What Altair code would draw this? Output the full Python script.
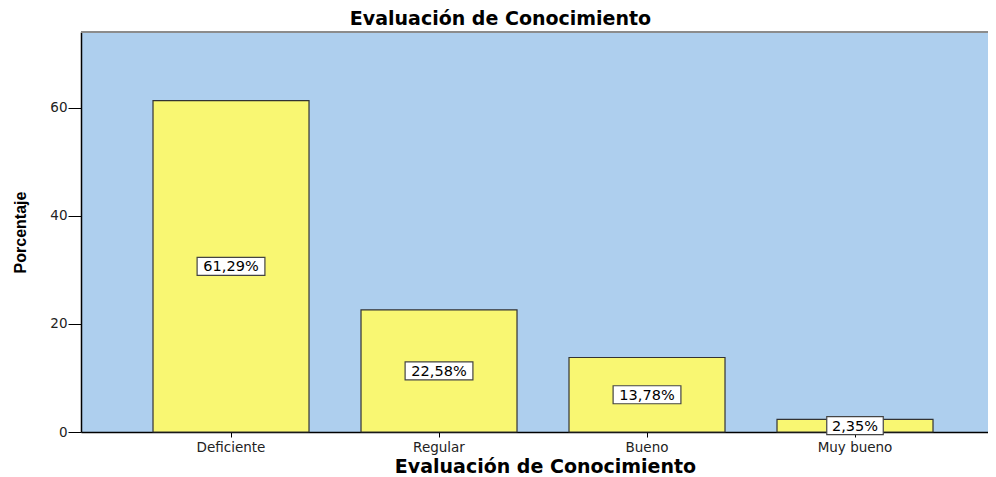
import altair as alt
import pandas as pd

categories = ["Deficiente", "Regular", "Bueno", "Muy bueno"]
values = [61.29, 22.58, 13.78, 2.35]
labels = ["61,29%", "22,58%", "13,78%", "2,35%"]
y_ticks = [0, 20, 40, 60]
title_text = "Evaluación de Conocimiento"
x_title = "Evaluación de Conocimiento"
y_title = "Porcentaje"

BOX_H = 18
rows = []
for c, v, l in zip(categories, values, labels):
    w = 11.3 * len(l)
    h = BOX_H / w
    rows.append({
        "cat": c, "val": v, "mid": v / 2, "lab": l,
        "bsize": w * w,
        "bshape": f"M-1,{-h:.4f}H1V{h:.4f}H-1Z",
    })
df = pd.DataFrame(rows)

xscale = alt.Scale(domain=categories, paddingInner=0.25, paddingOuter=0.3053, align=0.567)
yscale = alt.Scale(domain=[0, 74], nice=False, zero=True)

x_enc = alt.X("cat:N", scale=xscale, sort=categories,
              axis=alt.Axis(title=x_title, labelAngle=0, tickSize=5, labelPadding=3,
                            domainColor="black", domainWidth=1.5, tickColor="black",
                            labelFont="DejaVu Sans", labelFontSize=13.5, labelColor="#222",
                            titleFont="DejaVu Sans", titleFontSize=19, titleFontWeight="bold",
                            titleColor="black", titleX=464, titleY=34,
                            titleBaseline="middle", titleAlign="center"))
y_enc = alt.Y("val:Q", scale=yscale,
              axis=alt.Axis(title=y_title, values=y_ticks, tickSize=13, labelPadding=1,
                            grid=False, domainColor="black", domainWidth=1.5,
                            tickColor="black", labelFont="DejaVu Sans", labelFontSize=13.5,
                            labelColor="#222",
                            titleFont="Liberation Sans",
                            titleFontSize=16, titleFontWeight="bold", titleColor="black",
                            titleX=-61, titleY=200, titleAngle=270,
                            titleBaseline="middle", titleAlign="center"))

bars = alt.Chart(df).mark_bar(color="#F9F772", stroke="#333333", strokeWidth=1.2).encode(
    x=x_enc, y=y_enc
)

boxes = alt.Chart(df).mark_point(filled=True, fill="white", stroke="#444444",
                                 strokeWidth=1.2, opacity=1).encode(
    x=alt.X("cat:N", scale=xscale, sort=categories),
    y=alt.Y("mid:Q", scale=yscale),
    size=alt.Size("bsize:Q", scale=None, legend=None),
    shape=alt.Shape("bshape:N", scale=None, legend=None),
)

texts = alt.Chart(df).mark_text(font="DejaVu Sans", fontSize=14.5, color="black",
                                baseline="middle", align="center", dy=1).encode(
    x=alt.X("cat:N", scale=xscale, sort=categories),
    y=alt.Y("mid:Q", scale=yscale),
    text="lab:N",
)

top_border = alt.Chart(pd.DataFrame({"t": [74]})).mark_rule(
    color="#8c8c8c", strokeWidth=2).encode(y=alt.Y("t:Q", scale=yscale))

chart = alt.layer(bars, boxes, texts, top_border).properties(
    width=907, height=400,
    title=alt.TitleParams(title_text, anchor="middle", dx=-34, offset=2,
                          font="DejaVu Sans", fontSize=19,
                          fontWeight="bold", color="black"),
    autosize=alt.AutoSizeParams(type="none"),
    padding={"left": 73, "top": 24, "right": 0, "bottom": 45},
).configure_view(fill="#AECFEE", stroke=None)

chart.save("out.html", embed_options={"renderer": "svg", "actions": False})
